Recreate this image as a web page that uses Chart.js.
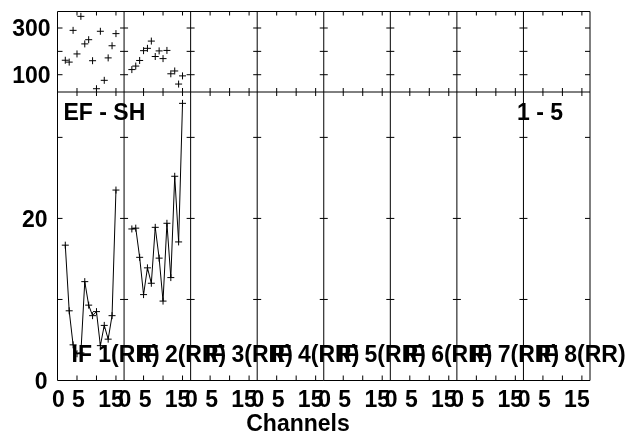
<!DOCTYPE html>
<html><head><meta charset="utf-8">
<script src="https://cdn.jsdelivr.net/npm/chart.js@4.4.0/dist/chart.umd.min.js"></script>
<style>html,body{margin:0;padding:0;background:#fff;}canvas{display:block;}</style>
</head><body>
<canvas id="c" width="634" height="434"></canvas>
<script>
// ---- data ----
const channels = [2,3,4,5,6,7,8,9,10,11,12,13,14,15];
const topIF1 = [162,154,290,189,350,232,250,160,40,286,76,172,224,276];
const topIF2 = [122,137,161,203,213,244,178,202,169,204,104,116,60,95];
const botIF1 = [16.7,8.6,4.4,3.3,3.4,12.2,9.3,8.0,8.5,4.3,6.8,5.1,8.0,23.5];
const botIF2 = [18.7,18.8,15.2,10.6,13.9,12.0,18.9,15.1,9.8,19.4,12.7,25.2,17.1,34.2];
const panelNames = ['IF 1(RR)','IF 2(RR)','IF 3(RR)','IF 4(RR)','IF 5(RR)','IF 6(RR)','IF 7(RR)','IF 8(RR)'];
const xTickMarks = [5,10,15];
const xTickLabelValues = [0,5,15];
const xTickLabels = ['0','5','15'];
const topTickMarks = [100,200,300];
const topTickLabelValues = [100,300];
const topTickLabels = ['100','300'];
const botTickMarks = [10,20,30];
const botTickLabelValues = [0,20];
const botTickLabels = ['0','20'];
const titleLeft = 'EF - SH';
const titleRight = '1 - 5';
const xTitle = 'Channels';

const SPAN = 17.08;   // channel span of one sub-panel
const NPANEL = panelNames.length;

const topSets = [topIF1, topIF2];
const botSets = [botIF1, botIF2];
const datasets = [];
topSets.forEach((arr,p)=>{
  datasets.push({
    data: channels.map((c,i)=>({x:p*SPAN+c, y:arr[i]})),
    yAxisID:'yTop', showLine:false, pointStyle:'cross', pointRadius:3.5,
    borderColor:'#000', backgroundColor:'#000', borderWidth:1
  });
});
botSets.forEach((arr,p)=>{
  datasets.push({
    data: channels.map((c,i)=>({x:p*SPAN+c, y:arr[i]})),
    yAxisID:'yBot', showLine:true, tension:0, pointStyle:'cross', pointRadius:3.5,
    borderColor:'#000', backgroundColor:'#000', borderWidth:1
  });
});

const FONT = 'bold 23px "Liberation Sans", Arial, Helvetica, sans-serif';

const framePlugin = {
  id:'frame',
  afterDatasetsDraw(chart){
    const ctx = chart.ctx;
    const xs = chart.scales.x, yT = chart.scales.yTop, yB = chart.scales.yBot;
    const L = xs.left, R = xs.right, T = yT.top, M = yT.bottom, B = yB.bottom;
    ctx.save();
    ctx.strokeStyle = '#000'; ctx.lineWidth = 1;
    ctx.beginPath();
    ctx.rect(L, T, R-L, B-T);
    ctx.moveTo(L, M); ctx.lineTo(R, M);
    for (let p=1; p<NPANEL; p++){
      const px = xs.getPixelForValue(p*SPAN);
      ctx.moveTo(px, T); ctx.lineTo(px, B);
    }
    // x ticks
    for (let p=0; p<NPANEL; p++){
      xTickMarks.forEach(v=>{
        const px = xs.getPixelForValue(p*SPAN+v);
        ctx.moveTo(px, T); ctx.lineTo(px, T+4);
        ctx.moveTo(px, M-4); ctx.lineTo(px, M+4);
        ctx.moveTo(px, B); ctx.lineTo(px, B-5);
      });
    }
    // y ticks
    for (let p=0; p<=NPANEL; p++){
      const px = xs.getPixelForValue(p*SPAN);
      const lft = p===NPANEL ? 5 : (p===0 ? 0 : 4);
      const rgt = p===0 ? 5 : (p===NPANEL ? 0 : 4);
      topTickMarks.forEach(v=>{ const py=yT.getPixelForValue(v); ctx.moveTo(px-lft,py); ctx.lineTo(px+rgt,py); });
      botTickMarks.forEach(v=>{ const py=yB.getPixelForValue(v); ctx.moveTo(px-lft,py); ctx.lineTo(px+rgt,py); });
    }
    ctx.stroke();

    ctx.fillStyle = '#000';
    ctx.font = FONT;
    ctx.textBaseline = 'alphabetic';
    // y labels
    ctx.textAlign = 'right';
    topTickLabelValues.forEach((v,i)=>{ ctx.fillText(topTickLabels[i], L-7, yT.getPixelForValue(v)+8.2); });
    botTickLabelValues.forEach((v,i)=>{ ctx.fillText(botTickLabels[i], L-10, yB.getPixelForValue(v)+8.2); });
    // x labels
    ctx.textAlign = 'center';
    for (let p=0; p<NPANEL; p++){
      xTickLabelValues.forEach((v,i)=>{
        const off = v===15 ? -5 : (v===5 ? 1.5 : 0.8);
        ctx.fillText(xTickLabels[i], xs.getPixelForValue(p*SPAN+v)+off, B+26.5);
      });
    }
    ctx.fillText(xTitle, 298, B+50);
    // panel names
    ctx.textAlign = 'left';
    for (let p=0; p<NPANEL; p++){
      ctx.fillText(panelNames[p], xs.getPixelForValue(p*SPAN)+14, B-19);
    }
    ctx.fillText(titleLeft, L+6, M+28);
    ctx.textAlign = 'right';
    ctx.fillText(titleRight, R-27, M+28);
    ctx.restore();
  }
};

new Chart(document.getElementById('c'), {
  type:'scatter',
  data:{datasets},
  options:{
    responsive:false, animation:false, devicePixelRatio:1,
    layout:{padding:{left:57.5, right:44, top:11.5, bottom:53.5}},
    plugins:{legend:{display:false}, tooltip:{enabled:false}},
    scales:{
      x:{type:'linear', min:0, max:NPANEL*SPAN, display:false},
      yTop:{type:'linear', position:'left', stack:'v', stackWeight:80.5, weight:2, min:26, max:370.7, display:false},
      yBot:{type:'linear', position:'left', stack:'v', stackWeight:288.5, weight:1, min:0, max:35.6, display:false}
    }
  },
  plugins:[framePlugin]
});
</script>
</body></html>
